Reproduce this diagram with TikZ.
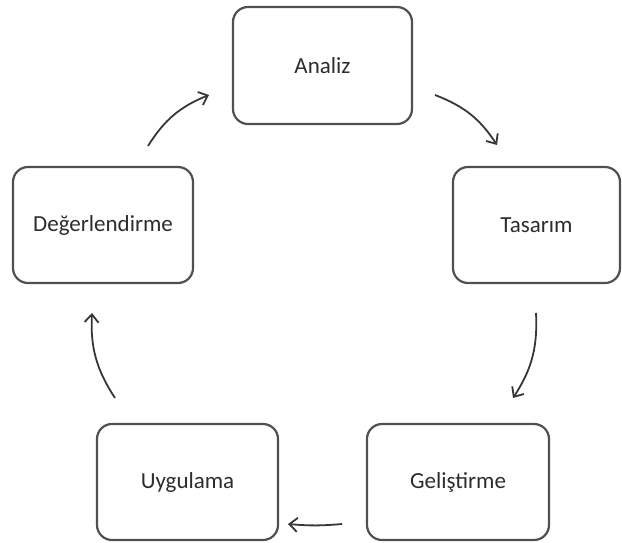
\documentclass[tikz,border=0pt]{standalone}
\usepackage{fontspec}
\setmainfont{Carlito}
\usetikzlibrary{arrows.meta}
\definecolor{boxline}{RGB}{80,80,80}
\definecolor{arrowline}{RGB}{55,55,55}
\definecolor{txt}{RGB}{45,45,45}
\begin{document}
\begin{tikzpicture}[x=1pt,y=-1pt,
  stage/.style={draw=boxline, line width=2.2pt, rounded corners=15pt, fill=white,
    inner sep=0pt, font=\fontsize{23}{27}\selectfont, text=txt},
  flow/.style={draw=arrowline, line width=1.8pt,
    -{Straight Barb[length=8pt,width=14pt,line width=1.8pt]}, bend left=18}]
\useasboundingbox (0,0) rectangle (622,542);
\node[stage, minimum width=179pt, minimum height=117pt] (ana) at (322.5,65.5) {Analiz};
\node[stage, minimum width=167pt, minimum height=116pt] (tas) at (536.5,225) {Tasarım};
\node[stage, minimum width=180pt, minimum height=116pt] (deg) at (103,225) {Değerlendirme};
\node[stage, minimum width=182pt, minimum height=116pt] (gel) at (458,482) {Geliştirme};
\node[stage, minimum width=181pt, minimum height=116pt] (uyg) at (187.5,482) {Uygulama};
\coordinate (a1) at (435,95);
\coordinate (a2) at (497,145);
\coordinate (b1) at (536,313);
\coordinate (b2) at (513,398);
\coordinate (c1) at (342,524);
\coordinate (c2) at (288,524);
\coordinate (d1) at (115,398);
\coordinate (d2) at (92,313);
\coordinate (e1) at (148,146);
\coordinate (e2) at (209,95);
\draw[flow] (a1) to (a2);
\draw[flow] (b1) to (b2);
\draw[flow, bend left=5] (c1) to (c2);
\draw[flow] (d1) to (d2);
\draw[flow] (e1) to (e2);
\end{tikzpicture}
\end{document}
